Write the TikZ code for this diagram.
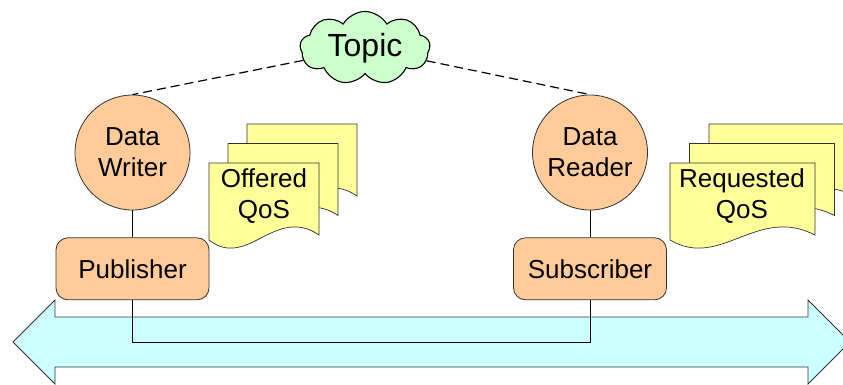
\documentclass[tikz,border=0pt]{standalone}
\usepackage{fontspec}
\setmainfont{Liberation Sans}
\usepackage{xcolor}
\usepackage{tikz}
\usetikzlibrary{arrows.meta,positioning,shapes.symbols}

\definecolor{peach}{HTML}{FFCC99}
\definecolor{mint}{HTML}{CCFFCC}
\definecolor{paper}{HTML}{FFFF99}
\definecolor{busblue}{HTML}{CCFFFF}

% one sheet of a QoS stack: x, y (top left), width
\newcommand{\qospage}[3]{%
  \draw[docpage] (#1,#2) -- (#1+#3,#2) -- (#1+#3,#2+72)
    .. controls (#1+0.6*#3,#2+42) and (#1+0.35*#3,#2+107) .. (#1,#2+77)
    -- cycle;}

\begin{document}
\begin{tikzpicture}[
  x=1pt, y=-1pt,
  font=\fontsize{26}{31}\selectfont,
  entity/.style={draw=black!80, fill=peach, circle, minimum size=115pt,
                 inner sep=0pt, align=center, line width=0.8pt},
  role/.style={draw=black!80, fill=peach, rounded corners=12pt,
               minimum width=153pt, minimum height=62pt, line width=0.8pt},
  docpage/.style={draw=black!80, fill=paper, line width=0.7pt},
  doctext/.style={align=center, inner sep=0pt},
  link/.style={draw=black, line width=0.8pt},
  assoc/.style={draw=black, dash pattern=on 9pt off 5pt, line width=1.2pt}
]
\useasboundingbox (0,0) rectangle (843,384);
\clip (0,0) rectangle (843,384);

% data bus
\draw[draw=black!80, fill=busblue, line width=0.8pt]
  (13,342) -- (55,300) -- (55,317) -- (808,317) -- (808,300) -- (850,342)
  -- (808,384) -- (808,367) -- (55,367) -- (55,384) -- cycle;

\node[cloud, cloud puffs=9, cloud puff arc=120, aspect=1.9, draw=black,
      fill=mint, line width=1.1pt, inner sep=0pt, minimum width=130pt,
      minimum height=68pt, font=\fontsize{32}{36}\selectfont]
  (topic) at (365,48) {Topic};

\node[entity] (writer) at (132.5,152.5) {Data\\Writer};
\node[entity] (reader) at (590,152.5) {Data\\Reader};
\node[role, below=27pt of writer] (pub) {Publisher};
\node[role, below=27pt of reader] (sub) {Subscriber};

% QoS sheets
\foreach \i in {2,1,0} \qospage{209+19*\i}{163-19.5*\i}{110};
\foreach \i in {2,1,0} \qospage{670+19.5*\i}{163-19.5*\i}{145};
\node[doctext] (offered) at (264,196) {Offered\\QoS};
\node[doctext] (requested) at (742,196) {Requested\\QoS};

\draw[assoc] (topic) -- (writer.north);
\draw[assoc] (topic) -- (reader.north);
\draw[link] (writer) -- (pub);
\draw[link] (reader) -- (sub);
\draw[link] (pub.south) -- ++(0,42) -| (sub.south);
\end{tikzpicture}
\end{document}
